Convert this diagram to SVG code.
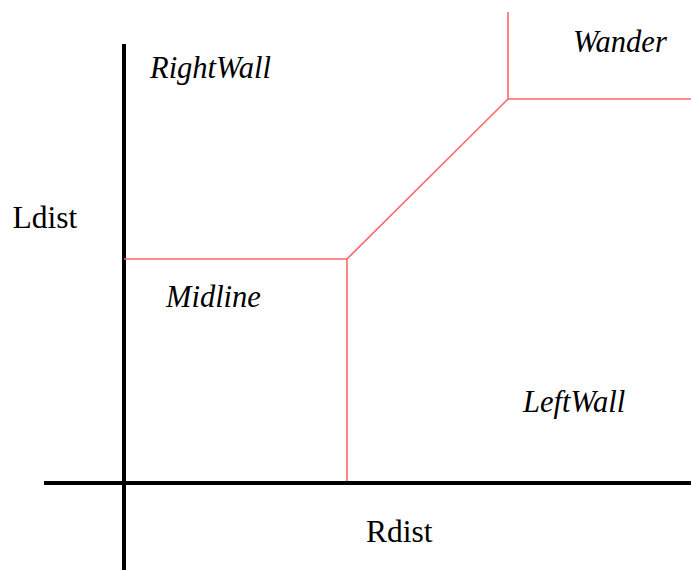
<svg xmlns="http://www.w3.org/2000/svg" width="691" height="570" viewBox="0 0 691 570">
<style>
.ax{stroke:#000;stroke-width:4;fill:none}
.rb{stroke:#ff6666;stroke-width:1.6;fill:none}
text{font-family:'Liberation Serif','Times New Roman',serif;font-size:31.5px;fill:#000}
.it{font-style:italic;font-size:30.5px}
</style>
<rect width="691" height="570" fill="#fff"/>
<g id="connectors">
<line class="ax" x1="124" y1="44" x2="124" y2="570"/>
<line class="ax" x1="44" y1="483" x2="691" y2="483"/>
<polyline class="rb" points="124,259 347,259 347,481"/>
<line class="rb" x1="347" y1="259" x2="508" y2="99"/>
<polyline class="rb" points="508,12 508,99 691,99"/>
</g>
<g id="RightWall"><text class="it" x="150" y="78">RightWall</text></g>
<g id="Wander"><text class="it" x="573" y="52">Wander</text></g>
<g id="Ldist"><text x="12.5" y="228">Ldist</text></g>
<g id="Midline"><text class="it" x="166" y="307">Midline</text></g>
<g id="LeftWall"><text class="it" x="523" y="412">LeftWall</text></g>
<g id="Rdist"><text x="366" y="542">Rdist</text></g>
</svg>
